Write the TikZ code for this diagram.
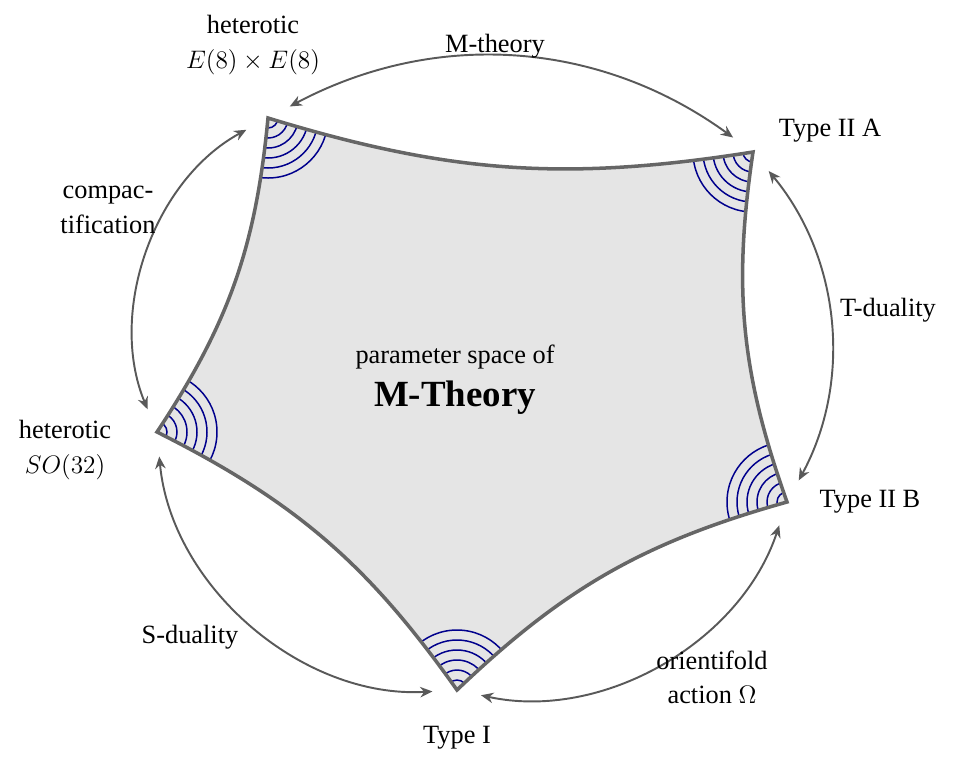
\documentclass[tikz,border=0pt]{standalone}
\usepackage{fontspec}
\setmainfont{Liberation Serif}
\usetikzlibrary{arrows.meta}

\begin{document}
\begin{tikzpicture}[
    x=0.02cm, y=0.02cm,
    txt/.style={align=center, inner sep=0pt, font=\fontsize{15}{19.5}\selectfont},
    arrow/.style={{Stealth[length=7pt,width=6pt]}-{Stealth[length=7pt,width=6pt]}, line width=1.1pt, draw=black!65, shorten <=14pt, shorten >=14pt},
    rim/.style={draw=black!60, line width=2pt, line join=miter},
    rings/.style={draw=blue!55!black, line width=0.85pt}
]
\useasboundingbox (0,0) rectangle (960,-772);

% corners of the parameter space
\coordinate (v1) at (268,-118);
\coordinate (v2) at (753,-152);
\coordinate (v3) at (787,-502);
\coordinate (v4) at (457,-690);
\coordinate (v5) at (157,-432);

\def\region{(v1) to[bend right=13] (v2) to[bend right=14] (v3) to[bend right=14] (v4) to[bend right=14] (v5) to[bend right=14] (v1)}

\fill[black!10] \region;
\begin{scope}
  \clip \region;
  \foreach \v in {v1,v2,v3,v4,v5}
    \foreach \r in {10,20,...,60}
      \draw[rings] (\v) circle[radius=\r];
\end{scope}
\draw[rim] \region -- cycle;

\node[txt] (centre) at (455,-380) {parameter space of\\[5pt]{\fontsize{21}{25}\selectfont\bfseries M-Theory}};

% limits
\node[txt] (e8) at (253,-45) {heterotic\\$E(8)\times E(8)$};
\node[txt] (iia) at (830,-131) {Type II A};
\node[txt] (iib) at (870,-502) {Type II B};
\node[txt] (typei) at (457,-738) {Type I};
\node[txt] (so32) at (65,-450) {heterotic\\$SO(32)$};

% dualities
\draw[arrow] (v1) to[bend left=32] (v2);
\draw[arrow] (v2) to[bend left=34] (v3);
\draw[arrow] (v3) to[bend left=42] (v4);
\draw[arrow] (v4) to[bend left=44] (v5);
\draw[arrow] (v5) to[bend left=42] (v1);

\node[txt] (mth) at (495,-46) {M-theory};
\node[txt] (tdual) at (888,-310) {T-duality};
\node[txt] (orient) at (712,-677) {orientifold\\action $\Omega$};
\node[txt] (sdual) at (190,-637) {S-duality};
\node[txt] (compact) at (108,-210) {compac-\\tification};

\end{tikzpicture}
\end{document}
